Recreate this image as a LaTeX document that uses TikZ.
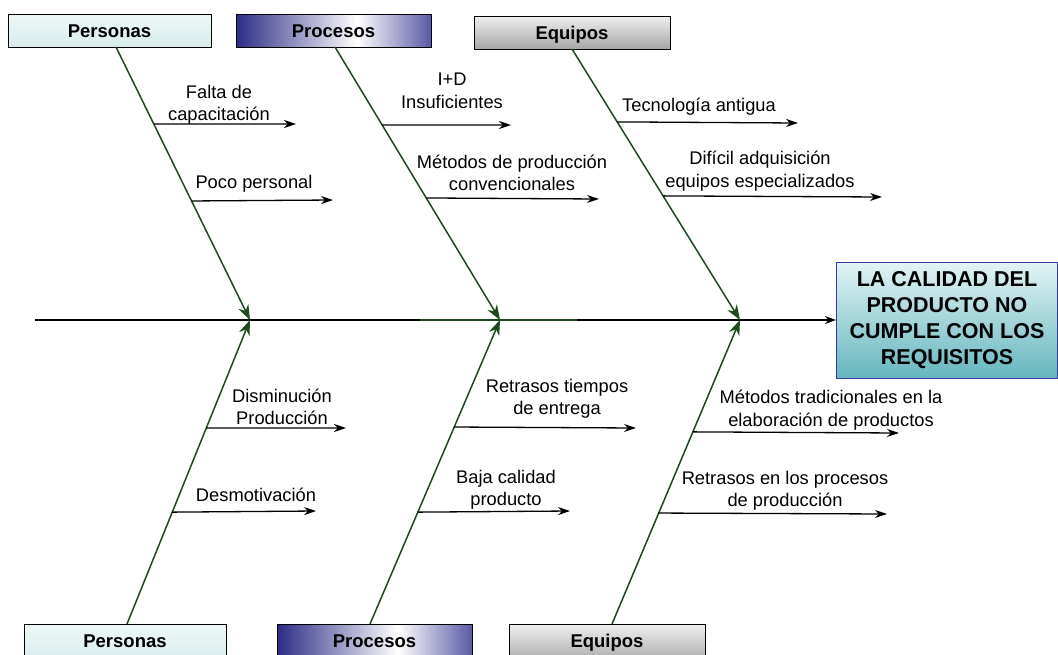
\documentclass[tikz,border=0pt]{standalone}
\usepackage{fontspec}
\setmainfont{Liberation Sans}
\usetikzlibrary{arrows.meta,calc}
\definecolor{bonegreen}{HTML}{1E4A1E}
\definecolor{navy}{HTML}{2C2C86}
\definecolor{navylite}{HTML}{5A5AA6}
\definecolor{resborder}{HTML}{3A3AA0}
\definecolor{persotop}{HTML}{EEF8F8}
\definecolor{persobot}{HTML}{D8ECEC}
\definecolor{restop}{HTML}{E2F4F5}
\definecolor{resbot}{HTML}{66B6BE}
\pgfdeclarehorizontalshading{procshade}{100bp}{color(0bp)=(navy); color(25bp)=(navy); color(56bp)=(white); color(75bp)=(navylite); color(100bp)=(navylite)}
\tikzset{
  hdr/.style={draw=black,line width=1pt,minimum height=33pt,inner sep=0pt,text height=14.4pt,text depth=0pt,font=\fontsize{18.5}{21}\selectfont\bfseries},
  perso/.style={hdr,top color=persotop,bottom color=persobot},
  proc/.style={hdr,shading=procshade},
  equip/.style={hdr,top color=gray!12,bottom color=gray!70},
  bone/.style={draw=bonegreen,line width=1.5pt,-{Stealth[length=15pt,width=11pt]}},
  sub/.style={draw=black,line width=1.3pt,-{Stealth[length=12pt,width=8pt]}},
  lbl/.style={align=center,inner sep=0pt,font=\fontsize{18.3}{22.5}\selectfont},
}
\begin{document}
\begin{tikzpicture}[x=1pt,y=-1pt]
\clip (0,0) rectangle (1058,654);
\fill[white] (0,0) rectangle (1058,654);
% headers
\node[perso,minimum width=203pt] (hP) at (109.5,30.5) {Personas};
\node[proc,minimum width=195pt] (hR) at (333.5,30.5) {Procesos};
\node[equip,minimum width=196pt] (hE) at (572,32.5) {Equipos};
\node[perso,minimum width=202pt,minimum height=40pt,text depth=7pt] (bP) at (125,644) {Personas};
\node[proc,minimum width=195pt,minimum height=40pt,text depth=7pt] (bR) at (374.5,644) {Procesos};
\node[equip,minimum width=196pt,minimum height=40pt,text depth=7pt] (bE) at (607,644) {Equipos};
% result
\node[draw=resborder,line width=1pt,top color=restop,bottom color=resbot,
      minimum width=221pt,minimum height=116pt,align=center,inner sep=0pt,
      font=\fontsize{21.5}{26}\selectfont\bfseries] (res) at (947,320)
      {LA CALIDAD DEL\\PRODUCTO NO\\CUMPLE CON LOS\\REQUISITOS};
% spine
\coordinate (s0) at (35,320);
\coordinate (j1) at (250,320);
\coordinate (j2) at (500,320);
\coordinate (j3) at (740,320);
\coordinate (g0) at (420,320);
\coordinate (g1) at (577,320);
\draw[line width=1.5pt,-{Stealth[length=11pt,width=8pt]}] (s0) -- (res.west);
\draw[bonegreen,line width=1.5pt] (g0) -- (g1);
% bone start points
\coordinate (tP) at (116,47);
\coordinate (tR) at (335,47);
\coordinate (tE) at (572,49);
\coordinate (uP) at (127,624);
\coordinate (uR) at (370,624);
\coordinate (uE) at (612,624);
\draw[bone] (tP) -- (j1);
\draw[bone] (tR) -- (j2);
\draw[bone] (tE) -- (j3);
\draw[bone] (uP) -- (j1);
\draw[bone] (uR) -- (j2);
\draw[bone] (uE) -- (j3);
% sub-arrow start points on bones
\path (tP) -- (j1) coordinate[pos=0.282] (a1) coordinate[pos=0.564] (a2);
\path (tR) -- (j2) coordinate[pos=0.286] (a3) coordinate[pos=0.553] (a4);
\path (tE) -- (j3) coordinate[pos=0.269] (a5) coordinate[pos=0.542] (a6);
\path (uP) -- (j1) coordinate[pos=0.645] (a7) coordinate[pos=0.368] (a8);
\path (uR) -- (j2) coordinate[pos=0.648] (a9) coordinate[pos=0.368] (a10);
\path (uE) -- (j3) coordinate[pos=0.632] (a11) coordinate[pos=0.365] (a12);
% end points
\coordinate (e1) at (296,124);
\coordinate (e2) at (333,200);
\coordinate (e3) at (511,125);
\coordinate (e4) at (599,199);
\coordinate (e5) at (798,123);
\coordinate (e6) at (882,197);
\coordinate (e7) at (346,428);
\coordinate (e8) at (316,511);
\coordinate (e9) at (636,428);
\coordinate (e10) at (570,511);
\coordinate (e11) at (899,433);
\coordinate (e12) at (887,514);
\foreach \i in {1,...,12} {\draw[sub] (a\i) -- (e\i);}
% labels
\node[lbl] (l1) at (219,105) {Falta de\\capacitación};
\node[lbl] (l2) at (254,184) {Poco personal};
\node[lbl] (l3) at (452,91) {I+D\\Insuficientes};
\node[lbl] (l4) at (512,173) {Métodos de producción\\convencionales};
\node[lbl] (l5) at (699,107) {Tecnología antigua};
\node[lbl] (l6) at (760,171) {Difícil adquisición\\equipos especializados};
\node[lbl] (l7) at (282,407) {Disminución\\Producción};
\node[lbl] (l8) at (256,495) {Desmotivación};
\node[lbl] (l9) at (557,399) {Retrasos tiempos\\de entrega};
\node[lbl] (l10) at (506,490) {Baja calidad\\producto};
\node[lbl] (l11) at (831,410) {Métodos tradicionales en la\\elaboración de productos};
\node[lbl] (l12) at (785,491) {Retrasos en los procesos\\de producción};
\end{tikzpicture}
\end{document}
